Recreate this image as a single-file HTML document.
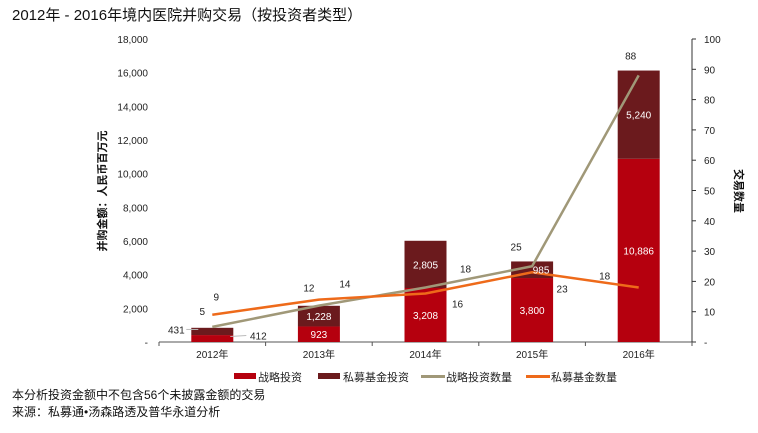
<!DOCTYPE html>
<html><head><meta charset="utf-8">
<style>
body{margin:0;background:#fff;width:758px;height:428px;overflow:hidden;font-family:"Liberation Sans","Noto Sans CJK SC",sans-serif;}
svg text{font-family:"Liberation Sans","Noto Sans CJK SC",sans-serif;}
</style></head><body>
<svg id="chart" width="758" height="428" xmlns="http://www.w3.org/2000/svg">
<text x="12" y="20" font-size="15" fill="#111">2012年 - 2016年境内医院并购交易（按投资者类型）</text>
<text transform="translate(106,191) rotate(-90)" text-anchor="middle" font-size="11" font-weight="bold" fill="#111">并购金额：人民币百万元</text>
<text transform="translate(735,191) rotate(90)" text-anchor="middle" font-size="11" font-weight="bold" fill="#111">交易数量</text>
<g id="axes"></g><g id="bars"></g><g id="lines"></g><g id="labels"></g>
<g font-size="11" fill="#222">
<rect x="234" y="373" width="22" height="6" fill="#b5000e"/><text x="258" y="381">战略投资</text>
<rect x="318" y="373" width="22" height="6" fill="#6b1a1d"/><text x="343" y="381">私募基金投资</text>
<rect x="421" y="375" width="24" height="3" fill="#a09878"/><text x="446" y="381">战略投资数量</text>
<rect x="526" y="375" width="24" height="3" fill="#ee6a1a"/><text x="551" y="381">私募基金数量</text>
</g>
<text x="12" y="399" font-size="12" fill="#111">本分析投资金额中不包含56个未披露金额的交易</text>
<text x="12" y="416" font-size="12" fill="#111">来源：私募通•汤森路透及普华永道分析</text>
</svg>
<script>
const categories=["2012年","2013年","2014年","2015年","2016年"];
const strategicAmt=[412,923,3208,3800,10886];
const peAmt=[431,1228,2805,985,5240];
const strategicCount=[5,12,18,25,88];
const peCount=[9,14,16,23,18];
const leftTicks=[0,2000,4000,6000,8000,10000,12000,14000,16000,18000];
const rightTicks=[0,10,20,30,40,50,60,70,80,90,100];

const NS="http://www.w3.org/2000/svg";
const X0=159,X1=692,Y0=342,Y1=39;
const band=(X1-X0)/categories.length;
const xC=i=>X0+band*(i+0.5);
const yL=v=>Y0-(v/18000)*(Y0-Y1);
const yR=v=>Y0-(v/100)*(Y0-Y1);
const fmt=v=>v===0?"-":v.toLocaleString("en-US");
function mk(tag,attrs,parent,txt){const e=document.createElementNS(NS,tag);for(const k in attrs)e.setAttribute(k,attrs[k]);if(txt!==undefined)e.textContent=txt;document.getElementById(parent).appendChild(e);return e;}

let e;
e=mk("line",{x1:X0,y1:Y0,x2:X1,y2:Y0,stroke:"#555","stroke-width":1},"axes");


e=mk("line",{x1:X1,y1:Y1,x2:X1,y2:Y0,stroke:"#333","stroke-width":1},"axes");


leftTicks.forEach(v=>{
  e=mk("text",{x:148,y:yL(v)+4,"text-anchor":"end","font-size":10,fill:"#222"},"axes",fmt(v));
  
  
});
rightTicks.forEach(v=>{
  e=mk("line",{x1:X1,y1:yR(v),x2:X1+4,y2:yR(v),stroke:"#333"},"axes");
  
  
  e=mk("text",{x:704,y:yR(v)+4,"font-size":10,fill:"#222"},"axes",v===0?"-":String(v));
  
  
});
for(let i=0;i<=categories.length;i++){
  e=mk("line",{x1:X0+band*i,y1:Y0,x2:X0+band*i,y2:Y0+4,stroke:"#555"},"axes");
  
  
}
categories.forEach((c,i)=>{
  e=mk("text",{x:xC(i),y:358,"text-anchor":"middle","font-size":10,fill:"#222"},"axes",c);
  
  
});
const BW=42;
categories.forEach((c,i)=>{
  const s=strategicAmt[i],p=peAmt[i];
  e=mk("rect",{x:xC(i)-BW/2,y:yL(s),width:BW,height:Y0-yL(s),fill:"#b5000e"},"bars");
  
  
  e=mk("rect",{x:xC(i)-BW/2,y:yL(s+p),width:BW,height:yL(s)-yL(s+p),fill:"#6b1a1d"},"bars");
  
  
  if(i>0){
    e=mk("text",{x:xC(i),y:(yL(s)+Y0)/2+4,"text-anchor":"middle","font-size":10,fill:"#fff"},"labels",fmt(s));
    
    
    e=mk("text",{x:xC(i)+(i===3?9:0),y:(yL(s)+yL(s+p))/2+4,"text-anchor":"middle","font-size":10,fill:"#fff"},"labels",fmt(p));
    
    
  }
});
e=mk("text",{x:xC(0)-36,y:yL(strategicAmt[0]+peAmt[0]/2)+2,"text-anchor":"middle","font-size":10,fill:"#222"},"labels",fmt(peAmt[0]));


e=mk("line",{x1:xC(0)-26,y1:yL(strategicAmt[0]+peAmt[0]/2)-2,x2:xC(0)-14,y2:yL(strategicAmt[0]+peAmt[0]/2)-2,stroke:"#bbb"},"labels");


e=mk("text",{x:xC(0)+46,y:yL(strategicAmt[0]/2)+1,"text-anchor":"middle","font-size":10,fill:"#222"},"labels",fmt(strategicAmt[0]));


e=mk("line",{x1:xC(0)+18,y1:yL(strategicAmt[0]/2)-2,x2:xC(0)+34,y2:yL(strategicAmt[0]/2)-3,stroke:"#bbb"},"labels");



function line(vals,color,name){
  const pts=vals.map((v,i)=>xC(i)+","+yR(v)).join(" ");
  e=mk("polyline",{points:pts,fill:"none",stroke:color,"stroke-width":2.5},"lines");
  
  
}
line(strategicCount,"#a09878","line-strategic-count");
line(peCount,"#ee6a1a","line-pe-count");
const gOff=[[-10,-12],[-10,-14],[40,-15],[-16,-16],[-8,-16]];
const oOff=[[4,-14],[26,-12],[32,14],[30,20],[-34,-8]];
strategicCount.forEach((v,i)=>{
  e=mk("text",{x:xC(i)+gOff[i][0],y:yR(v)+gOff[i][1],"text-anchor":"middle","font-size":10,fill:"#222"},"labels",String(v));
  
  
});
peCount.forEach((v,i)=>{
  e=mk("text",{x:xC(i)+oOff[i][0],y:yR(v)+oOff[i][1],"text-anchor":"middle","font-size":10,fill:"#222"},"labels",String(v));
  
  
});
</script>
</body></html>
